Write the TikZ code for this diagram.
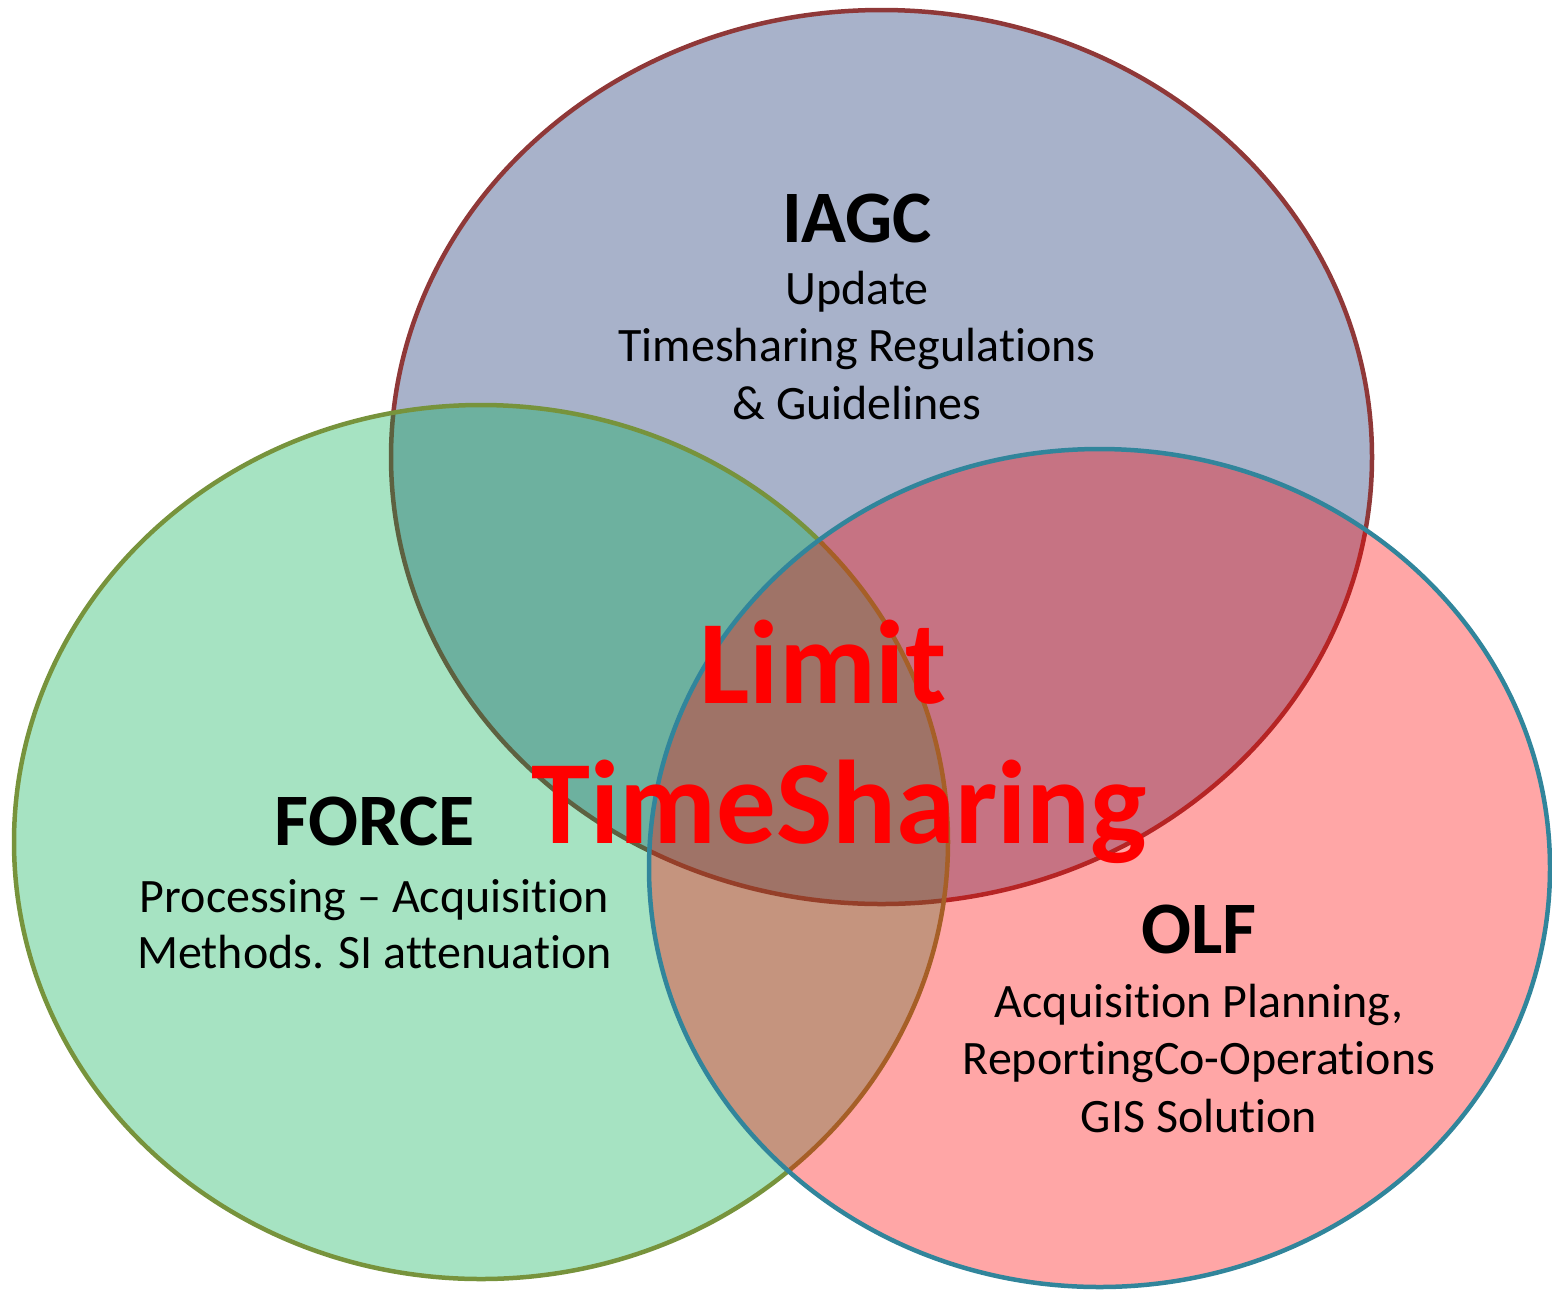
\documentclass[tikz,border=0pt]{standalone}
\usepackage{fontspec}
\setmainfont{Carlito}[Ligatures={NoCommon}]
\definecolor{iagcfill}{RGB}{168,178,202}
\definecolor{iagcline}{RGB}{143,56,56}
\definecolor{forcefill}{RGB}{0,176,80}
\definecolor{forceline}{RGB}{119,147,60}
\definecolor{olffill}{RGB}{255,0,0}
\definecolor{olfline}{RGB}{49,133,155}
\tikzset{
  setline/.style={line width=2.25pt},
  title/.style={anchor=base, inner sep=0pt, font=\fontsize{37}{44}\selectfont\bfseries},
  body/.style={anchor=base, inner sep=0pt, font=\fontsize{24}{29}\selectfont},
  big/.style={anchor=base, inner sep=0pt, text=red, font=\fontsize{59.5}{70}\selectfont\bfseries}
}
\begin{document}
\begin{tikzpicture}[x=0.5pt,y=-0.5pt]
\useasboundingbox (0,0) rectangle (1552,1291);
% IAGC
\filldraw[setline, draw=iagcline, fill=iagcfill] (881.5,457) ellipse [x radius=490.5, y radius=447];
% FORCE
\filldraw[setline, draw=forceline, fill=forcefill, fill opacity=0.35] (481,842) ellipse [x radius=467, y radius=437];
% OLF
\filldraw[setline, draw=olfline, fill=olffill, fill opacity=0.35] (1099.5,868) ellipse [x radius=450.5, y radius=419];
% texts
\node[title] (iagc) at (857,242) {IAGC};
\node[body] (iagc1) at (857,304) {Update};
\node[body] (iagc2) at (857,361.5) {Timesharing Regulations};
\node[body] (iagc3) at (857,419) {\& Guidelines};
\node[title] (force) at (374.5,845) {FORCE};
\node[body] (force1) at (374.5,912) {Processing – Acquisition};
\node[body] (force2) at (374.5,968) {Methods. SI attenuation};
\node[title] (olf) at (1199,953) {OLF};
\node[body] (olf1) at (1199,1017) {Acquisition Planning,};
\node[body] (olf2) at (1199,1074.5) {ReportingCo-Operations};
\node[body] (olf3) at (1199,1132) {GIS Solution};
\node[big] (limit) at (823,703) {Limit};
\node[big] (ts) at (839,843) {TimeSharing};
\end{tikzpicture}
\end{document}
